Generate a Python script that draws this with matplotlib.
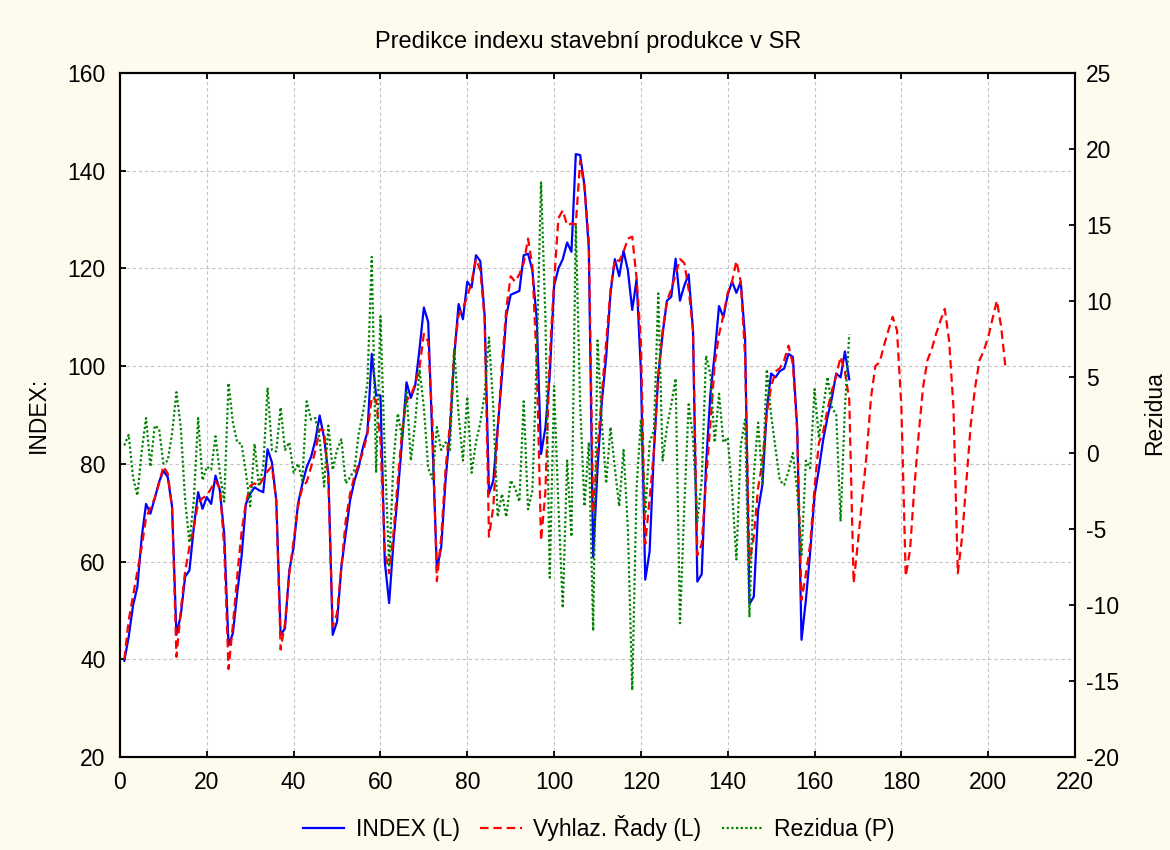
import matplotlib
matplotlib.use('Agg')
import matplotlib.pyplot as plt
from matplotlib.lines import Line2D

plt.rcParams['font.family'] = ['Liberation Sans', 'DejaVu Sans']
plt.rcParams['axes.unicode_minus'] = False

# ---------------- data ----------------
index_x = list(range(1, 169))
index_vals = [
    39.7, 44.6, 51.0, 54.8, 65.0, 71.8, 69.8, 72.9, 76.3, 78.6, 77.3, 71.2,
    45.0, 49.0, 56.9, 58.2, 67.0, 74.2, 70.8, 73.2, 71.8, 77.6, 74.6, 65.7,
    42.9, 45.3, 53.5, 61.0, 71.8, 73.9, 75.2, 74.6, 74.2, 83.0, 80.3, 72.5,
    45.0, 46.3, 58.2, 63.0, 71.8, 75.9, 79.3, 81.4, 84.8, 89.9, 85.4, 78.0,
    45.0, 47.7, 58.9, 65.7, 72.5, 76.5, 79.4, 83.5, 86.5, 102.5, 94.0, 94.0,
    60.0, 51.5, 64.0, 74.0, 85.0, 96.7, 93.5, 96.0, 103.5, 112.0, 109.0, 84.0,
    58.3, 63.0, 76.6, 86.6, 102.0, 112.7, 109.6, 117.3, 116.1, 122.7, 121.5, 110.4,
    73.9, 76.6, 87.4, 98.1, 110.4, 114.6, 115.0, 115.4, 122.7, 123.0, 119.6, 109.6,
    82.0, 87.4, 98.1, 116.5, 120.0, 121.9, 125.3, 123.4, 143.4, 143.2, 137.0, 124.0,
    60.9, 78.9, 92.7, 101.9, 115.0, 121.9, 118.4, 123.6, 119.6, 111.5, 117.7, 98.9,
    56.3, 62.0, 82.7, 98.1, 106.5, 113.4, 114.2, 122.0, 113.4, 116.5, 118.8, 107.3,
    55.9, 57.4, 79.7, 94.3, 102.5, 112.3, 110.0, 114.6, 117.3, 115.0, 117.3, 105.7,
    51.3, 52.8, 70.5, 75.8, 91.2, 98.5, 97.7, 99.0, 99.5, 102.5, 101.9, 87.4,
    44.0, 52.1, 62.0, 73.5, 78.9, 85.0, 89.6, 93.5, 98.5, 97.7, 103.0, 97.3,
]

smooth_x = list(range(1, 205))
smooth_vals = [
    40.0, 48.0, 53.0, 58.0, 63.0, 69.0, 71.0, 73.0, 76.0, 79.5, 78.0, 71.0,
    40.5, 50.0, 58.0, 63.0, 67.0, 72.0, 73.0, 73.5, 75.0, 76.5, 75.0, 63.0,
    38.0, 47.0, 57.0, 66.0, 72.0, 75.5, 76.0, 75.5, 77.0, 78.5, 79.5, 72.5,
    42.0, 47.3, 57.5, 64.4, 71.2, 75.2, 76.3, 79.3, 82.7, 87.1, 86.8, 76.6,
    46.7, 49.4, 58.9, 68.4, 73.9, 77.5, 80.0, 82.5, 86.2, 93.7, 93.0, 84.8,
    62.4, 57.6, 65.8, 76.7, 86.9, 93.0, 94.0, 96.4, 99.8, 106.6, 105.0, 88.0,
    56.0, 65.0, 78.9, 88.1, 103.5, 110.4, 111.9, 114.2, 117.3, 121.9, 119.6, 109.6,
    65.1, 71.2, 86.6, 100.4, 111.9, 118.4, 117.3, 118.8, 121.1, 126.1, 120.4, 100.4,
    64.3, 74.3, 101.9, 117.3, 130.3, 131.9, 128.8, 129.2, 129.0, 142.0, 136.5, 125.7,
    70.0, 82.7, 94.3, 105.0, 115.7, 121.9, 121.5, 123.4, 126.1, 126.5, 118.0, 105.0,
    63.6, 72.8, 82.7, 98.1, 107.3, 113.4, 115.7, 118.8, 121.9, 121.1, 115.7, 107.3,
    61.3, 63.6, 76.6, 88.1, 100.4, 106.5, 110.4, 115.0, 117.3, 121.5, 117.3, 101.9,
    59.7, 65.1, 75.1, 80.4, 90.4, 95.8, 98.9, 99.6, 101.2, 104.2, 100.4, 86.6,
    52.1, 57.4, 63.6, 75.1, 84.3, 86.6, 91.2, 95.0, 98.1, 101.9, 98.9, 93.0,
    55.6, 64.0, 73.0, 82.0, 93.5, 100.0, 100.8, 104.2, 107.3, 110.1, 107.3, 91.6,
    57.0, 62.4, 75.3, 86.2, 95.7, 101.2, 103.5, 106.6, 109.3, 111.7, 105.2, 91.6,
    57.6, 65.1, 76.7, 88.2, 95.7, 101.2, 103.2, 105.9, 109.7, 113.4, 108.0, 99.5,
]

resid_x = list(range(1, 169))
resid_vals = [
    0.5, 1.2, -1.6, -2.8, 0.1, 2.3, -0.9, 1.8, 1.6, -0.7, -0.5, 1.3,
    4.0, 1.7, -3.1, -5.9, -3.1, 2.3, -1.8, -0.9, -1.1, 1.1, -1.3, -3.2,
    4.6, 2.0, 0.7, 0.6, -1.3, -3.5, 0.6, -2.2, -0.9, 4.3, 0.2, 0.1,
    3.0, 0.2, 0.7, -1.3, -0.7, -1.8, 3.4, 2.2, 2.3, 0.9, -2.2, 1.8,
    -1.1, 0.2, 0.9, -2.0, -1.6, -1.1, 1.3, 2.7, 4.6, 12.9, -1.3, 9.0,
    0.0, -7.5, -0.5, 2.6, 0.9, 4.1, -0.5, 2.0, 5.5, 3.0, -1.0, -1.7,
    1.7, 0.2, 0.7, 0.2, 6.9, 2.5, -0.5, 3.7, -1.3, 0.7, 2.0, 3.9,
    7.6, 3.0, -4.2, -2.7, -4.2, -1.8, -2.3, -3.2, 3.4, -3.7, -2.5, 6.4,
    17.8, 8.9, -8.2, 4.4, -3.5, -10.2, -0.5, -5.5, 15.0, 3.2, -3.5, 0.7,
    -11.7, 7.4, 2.0, -2.0, 1.7, -1.0, -3.5, 0.2, -5.0, -15.6, -2.3, 2.2,
    -4.0, 0.7, 1.5, 10.5, -0.5, 1.7, 3.2, 4.9, -11.2, -3.5, 3.2, 1.0,
    -4.5, -1.8, 6.4, 5.2, 0.7, 3.9, 0.7, 1.0, -2.5, -7.0, 0.5, 2.2,
    -10.8, -1.5, 2.0, -2.0, 5.5, 2.5, 0.3, -1.8, -2.1, -1.2, 0.0, -2.5,
    -6.7, -0.5, -1.0, 4.2, 1.0, 3.0, 5.0, 3.0, 2.5, -4.5, 3.0, 7.8,
]

x_ticks = list(range(0, 221, 20))
left_ticks = list(range(20, 161, 20))
right_ticks = list(range(-20, 26, 5))

title = 'Predikce indexu stavební produkce v SR'
left_label = 'INDEX:'
right_label = 'Rezidua'
legend_labels = ['INDEX (L)', 'Vyhlaz. Řady (L)', 'Rezidua (P)']

# ---------------- figure ----------------
W, H = 1170, 850
fig = plt.figure(figsize=(W / 100, H / 100), dpi=100, facecolor='#FFFAEE')
L, R, T, B = 120, 1075, 73, 757
ax = fig.add_axes([L / W, 1 - B / H, (R - L) / W, (B - T) / H])
ax.set_facecolor('white')

blue, red, green = '#0000FF', '#FF0000', '#008000'
lw = 1.6
dash = (0, (3.8, 2.2))
dots = (0, (1, 1.1))
ax.plot(index_x, index_vals, color=blue, lw=lw, zorder=3)
ax.plot(smooth_x, smooth_vals, color=red, lw=lw, ls=dash, zorder=3)

ax.set_xlim(0, 220)
ax.set_ylim(20, 160)
ax.set_xticks(x_ticks)
ax.set_yticks(left_ticks)
ax.grid(True, color='#C4C4C4', ls=(0, (3, 2.5)), lw=0.8)
ax.set_axisbelow(True)

ax2 = ax.twinx()
ax2.plot(resid_x, resid_vals, color=green, lw=lw, ls=dots)
ax2.set_ylim(-20, 25)
ax2.set_yticks(right_ticks)

fs = 16.5
ax.tick_params(axis='x', direction='in', length=4, width=1.3, labelsize=fs,
               top=True, bottom=True, pad=10)
ax.tick_params(axis='y', direction='in', length=4, width=1.3, labelsize=fs,
               left=True, right=False, pad=10.5)
ax2.tick_params(axis='y', direction='in', length=4, width=1.3, labelsize=fs,
                right=True, left=False, pad=8)
for a in (ax, ax2):
    for s in a.spines.values():
        s.set_color('black')
        s.set_linewidth(1.5)

fig.text(38 / W, 1 - 415 / H, left_label, rotation=90, ha='center', va='center', fontsize=fs)
fig.text(1155 / W, 1 - 413 / H, right_label, rotation=90, ha='center', va='center', fontsize=fs)
fig.text(588 / W, 1 - 42 / H, title, ha='center', va='center', fontsize=17)

handles = [
    Line2D([], [], color=blue, lw=lw),
    Line2D([], [], color=red, lw=lw, ls=dash),
    Line2D([], [], color=green, lw=lw, ls=dots),
]
fig.legend(handles, legend_labels, loc='center', bbox_to_anchor=(599 / W, 1 - 828 / H),
           ncol=3, frameon=False, fontsize=fs, handlelength=1.8,
           handletextpad=0.5, columnspacing=0.9, borderpad=0, borderaxespad=0)

fig.savefig('out.png', dpi=100, facecolor=fig.get_facecolor())
